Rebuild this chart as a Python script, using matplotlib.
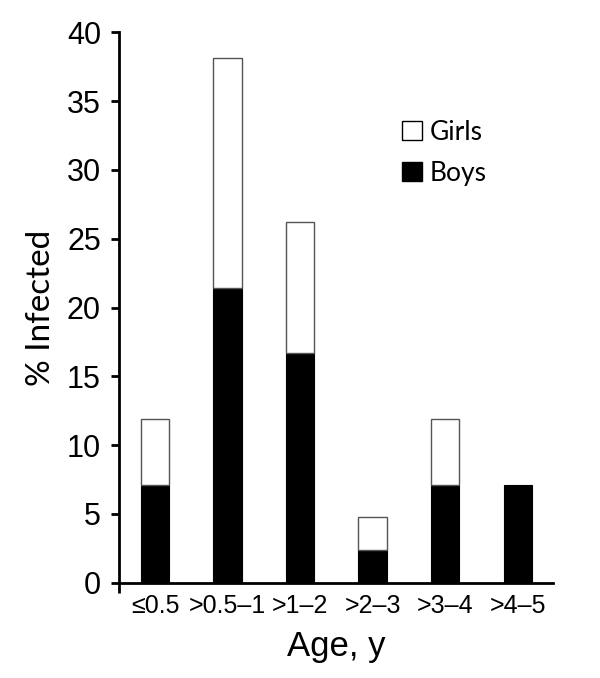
import matplotlib
matplotlib.use("Agg")
import matplotlib.pyplot as plt
import numpy as np

categories = ["≤0.5", ">0.5–1", ">1–2", ">2–3", ">3–4", ">4–5"]
boys = [7.1, 21.4, 16.7, 2.4, 7.1, 7.1]
total = [11.9, 38.1, 26.2, 4.8, 11.9, 7.1]
girls = [t - b for t, b in zip(total, boys)]
yticks = [0, 5, 10, 15, 20, 25, 30, 35, 40]

plt.rcParams['font.family'] = ['Liberation Sans', 'DejaVu Sans']

fig = plt.figure(figsize=(6.0, 6.78), dpi=100)
ax = fig.add_axes([119/600, 1-582.7/678, (553-119)/600, (582.7-32.3)/678])

x = np.arange(len(categories))
w = 0.39
hb = ax.bar(x, boys, width=w, color='black', edgecolor='black', linewidth=0.8, label='Boys', zorder=2)
hg = ax.bar(x, girls, bottom=boys, width=w, color='white', edgecolor='#555555', linewidth=1.0, label='Girls', zorder=2)
for rect, g in zip(hg, girls):
    if g <= 0:
        rect.set_visible(False)

ax.set_xlim(-0.497, 5.487)
ax.set_ylim(0, 40)
ax.set_yticks(yticks)
ax.set_yticklabels([str(t) for t in yticks], fontsize=22)
ax.set_xticks(x)
ax.set_xticklabels(categories, fontsize=18)
ax.tick_params(axis='x', which='major', length=0, pad=8)
ax.tick_params(axis='y', which='major', length=6, width=2, direction='out', pad=7)
ax.set_xticks([-0.497], minor=True)
ax.tick_params(axis='x', which='minor', length=7, width=2, direction='out')

for s in ['top', 'right']:
    ax.spines[s].set_visible(False)
for s in ['left', 'bottom']:
    ax.spines[s].set_linewidth(2)

ax.set_xlabel("Age, y", fontsize=25, labelpad=9)
ax.set_ylabel("% Infected", fontsize=24, family=['Lato', 'DejaVu Sans'], labelpad=8)

leg = ax.legend(handles=[hg, hb], labels=['Girls', 'Boys'], loc='upper left',
                bbox_to_anchor=(402/600, 1-120/678), bbox_transform=fig.transFigure,
                frameon=False, borderpad=0, borderaxespad=0, handlelength=0.74, handleheight=0.74,
                handletextpad=0.32, labelspacing=0.6,
                prop={'family': ['Lato', 'DejaVu Sans'], 'size': 19})
for p in leg.get_patches():
    p.set_edgecolor('black')
    p.set_linewidth(1.0)

fig.savefig("out.png", dpi=100)
